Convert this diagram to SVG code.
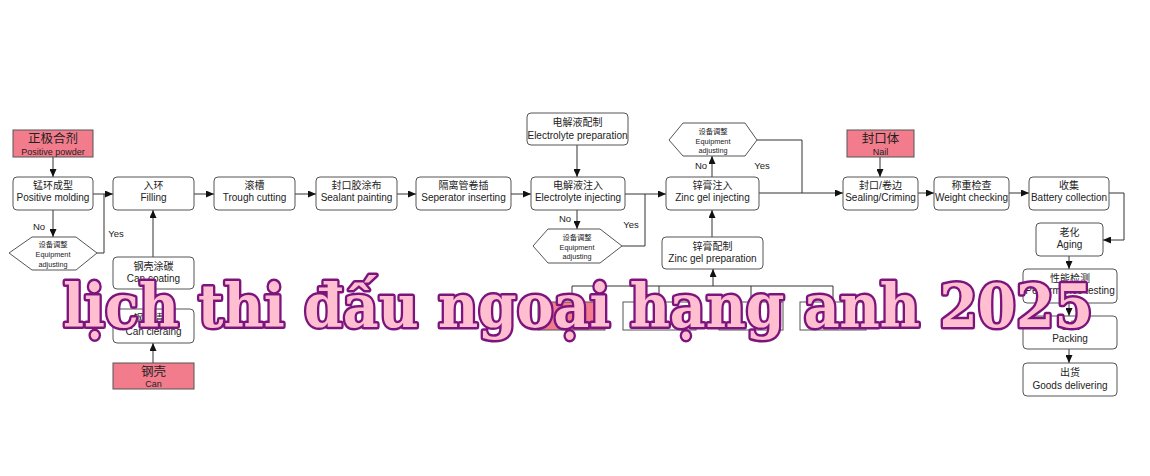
<svg xmlns="http://www.w3.org/2000/svg" width="1150" height="476" viewBox="0 0 1150 476">
<style>
.b{fill:#fff;stroke:#555;stroke-width:1}
.p{fill:#f27c8c;stroke:#555;stroke-width:1}
.t{font-family:"Liberation Sans","Noto Sans CJK SC",sans-serif;font-size:10px;fill:#222;text-anchor:middle}
.big{font-size:12.5px}
.sm{font-size:9px}
.h{font-size:7.3px}
.lab{font-family:"Liberation Sans",sans-serif;font-size:9.5px;fill:#222;text-anchor:middle}
.c{fill:none;stroke:#333;stroke-width:1}
.wm{font-family:"DejaVu Serif",serif;font-weight:bold;font-size:59px;fill:#ffbfd0;stroke:#7d147d;stroke-width:5;stroke-linejoin:round;paint-order:stroke fill}
.wm2{font-family:"DejaVu Serif",serif;font-weight:bold;font-size:59px;fill:none;stroke:#8a1a8a;stroke-width:1.2}
</style>
<defs>
<marker id="a" markerUnits="userSpaceOnUse" markerWidth="8" markerHeight="7" refX="8" refY="3.5" orient="auto"><path d="M0,0 L8,3.5 L0,7 z" fill="#111"/></marker>
</defs>
<rect width="1150" height="476" fill="#fff"/>
<g id="connectors">
<line class="c" x1="53" y1="157" x2="53" y2="177" marker-end="url(#a)"/>
<line class="c" x1="93" y1="194" x2="113" y2="194" marker-end="url(#a)"/>
<polyline class="c" points="97,253 104,253 104,194"/>
<line class="c" x1="53" y1="210" x2="53" y2="237" marker-end="url(#a)"/>
<line class="c" x1="194" y1="194" x2="214" y2="194" marker-end="url(#a)"/>
<line class="c" x1="295" y1="194" x2="316" y2="194" marker-end="url(#a)"/>
<line class="c" x1="397" y1="194" x2="416" y2="194" marker-end="url(#a)"/>
<line class="c" x1="511" y1="194" x2="531" y2="194" marker-end="url(#a)"/>
<line class="c" x1="577" y1="145" x2="577" y2="177" marker-end="url(#a)"/>
<line class="c" x1="577" y1="210" x2="577" y2="229" marker-end="url(#a)"/>
<polyline class="c" points="622,246 645,246 645,194"/>
<line class="c" x1="625" y1="194" x2="666" y2="194" marker-end="url(#a)"/>
<line class="c" x1="712" y1="177" x2="712" y2="156" marker-end="url(#a)"/>
<polyline class="c" points="757,140 802,140 802,193"/>
<line class="c" x1="759" y1="193" x2="843" y2="193" marker-end="url(#a)"/>
<line class="c" x1="712" y1="237" x2="712" y2="210" marker-end="url(#a)"/>
<line class="c" x1="713" y1="286" x2="713" y2="269" marker-end="url(#a)"/>
<polyline class="c" points="572,302 572,286 833,286 833,302"/>
<line class="c" x1="659" y1="286" x2="659" y2="302"/>
<line class="c" x1="751" y1="286" x2="751" y2="302"/>
<line class="c" x1="880" y1="157" x2="880" y2="177" marker-end="url(#a)"/>
<line class="c" x1="918" y1="193" x2="934" y2="193" marker-end="url(#a)"/>
<line class="c" x1="1009" y1="193" x2="1029" y2="193" marker-end="url(#a)"/>
<polyline class="c" points="1109,193 1124,193 1124,240 1103,240" marker-end="url(#a)"/>
<line class="c" x1="1069" y1="256" x2="1069" y2="269" marker-end="url(#a)"/>
<line class="c" x1="1069" y1="303" x2="1069" y2="316" marker-end="url(#a)"/>
<line class="c" x1="1069" y1="349" x2="1069" y2="363" marker-end="url(#a)"/>
<line class="c" x1="153" y1="257" x2="153" y2="210" marker-end="url(#a)"/>
<line class="c" x1="153" y1="309" x2="153" y2="289" marker-end="url(#a)"/>
<line class="c" x1="153" y1="363" x2="153" y2="343" marker-end="url(#a)"/>
<text class="lab" x="39" y="230">No</text>
<text class="lab" x="116" y="237">Yes</text>
<text class="lab" x="565" y="222">No</text>
<text class="lab" x="631" y="228">Yes</text>
<text class="lab" x="701" y="169">No</text>
<text class="lab" x="762" y="169">Yes</text>
</g>
<g id="positive-powder"><rect class="p" x="13" y="130" width="80" height="27"/><text class="t big" x="53" y="143">正极合剂</text><text class="t sm" x="53" y="155">Positive powder</text></g>
<g id="positive-molding"><rect class="b" x="13" y="177" width="80" height="33" rx="4"/><text class="t" x="53" y="189">锰环成型</text><text class="t" x="53" y="201">Positive  molding</text></g>
<g id="adjust1"><polygon class="b" points="9,253 32,237 76,237 97,253 76,270 32,270"/><text class="t h" x="53" y="246.5">设备调整</text><text class="t h" x="53" y="256.5">Equipment</text><text class="t h" x="53" y="266.5">adjusting</text></g>
<g id="filling"><rect class="b" x="113" y="177" width="81" height="33" rx="4"/><text class="t" x="153.5" y="189">入环</text><text class="t" x="153.5" y="201">Filling</text></g>
<g id="trough"><rect class="b" x="214" y="177" width="81" height="33" rx="4"/><text class="t" x="254.5" y="189">滚槽</text><text class="t" x="254.5" y="201">Trough cutting</text></g>
<g id="sealant"><rect class="b" x="316" y="177" width="81" height="33" rx="4"/><text class="t" x="356.5" y="189">封口胶涂布</text><text class="t" x="356.5" y="201">Sealant painting</text></g>
<g id="separator"><rect class="b" x="416" y="177" width="95" height="33" rx="4"/><text class="t" x="463.5" y="189">隔离管卷插</text><text class="t" x="463.5" y="201">Seperator inserting</text></g>
<g id="electrolyte-prep"><rect class="b" x="527" y="113" width="101" height="32" rx="4"/><text class="t" x="577.5" y="126">电解液配制</text><text class="t" x="577.5" y="139">Electrolyte preparation</text></g>
<g id="electrolyte-inj"><rect class="b" x="531" y="177" width="94" height="33" rx="4"/><text class="t" x="578" y="189">电解液注入</text><text class="t" x="578" y="201">Electrolyte injecting</text></g>
<g id="adjust2"><polygon class="b" points="533,246 548,229 600,229 622,246 600,263 548,263"/><text class="t h" x="577" y="239.5">设备调整</text><text class="t h" x="577" y="249.5">Equipment</text><text class="t h" x="577" y="258.5">adjusting</text></g>
<g id="zinc-inj"><rect class="b" x="666" y="177" width="93" height="33" rx="4"/><text class="t" x="712.5" y="189">锌膏注入</text><text class="t" x="712.5" y="201">Zinc gel injecting</text></g>
<g id="adjust3"><polygon class="b" points="669,140 683,123 745,123 757,140 745,156 683,156"/><text class="t h" x="713" y="133.5">设备调整</text><text class="t h" x="713" y="143.5">Equipment</text><text class="t h" x="713" y="152.5">adjusting</text></g>
<g id="zinc-prep"><rect class="b" x="662" y="237" width="101" height="32" rx="4"/><text class="t" x="712.5" y="250">锌膏配制</text><text class="t" x="712.5" y="262">Zinc gel preparation</text></g>
<g id="raw-a"><rect class="p" x="538" y="302" width="67" height="28"/></g>
<g id="raw-b"><rect class="b" x="623" y="302" width="73" height="28"/></g>
<g id="raw-c"><rect class="b" x="719" y="302" width="64" height="28"/></g>
<g id="raw-d"><rect class="b" x="800" y="302" width="66" height="28"/></g>
<g id="nail"><rect class="p" x="847" y="130" width="67" height="27"/><text class="t big" x="880.5" y="143">封口体</text><text class="t sm" x="880.5" y="155">Nail</text></g>
<g id="sealing"><rect class="b" x="843" y="177" width="75" height="33" rx="4"/><text class="t" x="880.5" y="189">封口/卷边</text><text class="t" x="880.5" y="201">Sealing/Criming</text></g>
<g id="weight"><rect class="b" x="934" y="177" width="75" height="33" rx="4"/><text class="t" x="971.5" y="189">称重检查</text><text class="t" x="971.5" y="201">Weight checking</text></g>
<g id="collection"><rect class="b" x="1029" y="177" width="80" height="33" rx="4"/><text class="t" x="1069" y="189">收集</text><text class="t" x="1069" y="201">Battery collection</text></g>
<g id="aging"><rect class="b" x="1036" y="223" width="67" height="33" rx="4"/><text class="t" x="1069.5" y="236">老化</text><text class="t" x="1069.5" y="248">Aging</text></g>
<g id="performance"><rect class="b" x="1023" y="269" width="94" height="34" rx="4"/><text class="t" x="1070" y="282">性能检测</text><text class="t" x="1070" y="294">Performance testing</text></g>
<g id="packing"><rect class="b" x="1023" y="316" width="94" height="33" rx="4"/><text class="t" x="1070" y="329">包装</text><text class="t" x="1070" y="342">Packing</text></g>
<g id="goods"><rect class="b" x="1023" y="363" width="94" height="33" rx="4"/><text class="t" x="1070" y="376">出货</text><text class="t" x="1070" y="389">Goods delivering</text></g>
<g id="can-coating"><rect class="b" x="113" y="257" width="81" height="32" rx="4"/><text class="t" x="153.5" y="270">钢壳涂碳</text><text class="t" x="153.5" y="282">Can coating</text></g>
<g id="can-cleaning"><rect class="b" x="113" y="309" width="81" height="34" rx="4"/><text class="t" x="153.5" y="322">钢壳清洗</text><text class="t" x="153.5" y="335">Can cleraing</text></g>
<g id="can"><rect class="p" x="113" y="363" width="81" height="26"/><text class="t big" x="153.5" y="376">钢壳</text><text class="t sm" x="153.5" y="387">Can</text></g>
<text class="wm" x="63" y="327" textLength="1030" lengthAdjust="spacingAndGlyphs">lịch thi đấu ngoại hạng anh 2025</text>
</svg>
